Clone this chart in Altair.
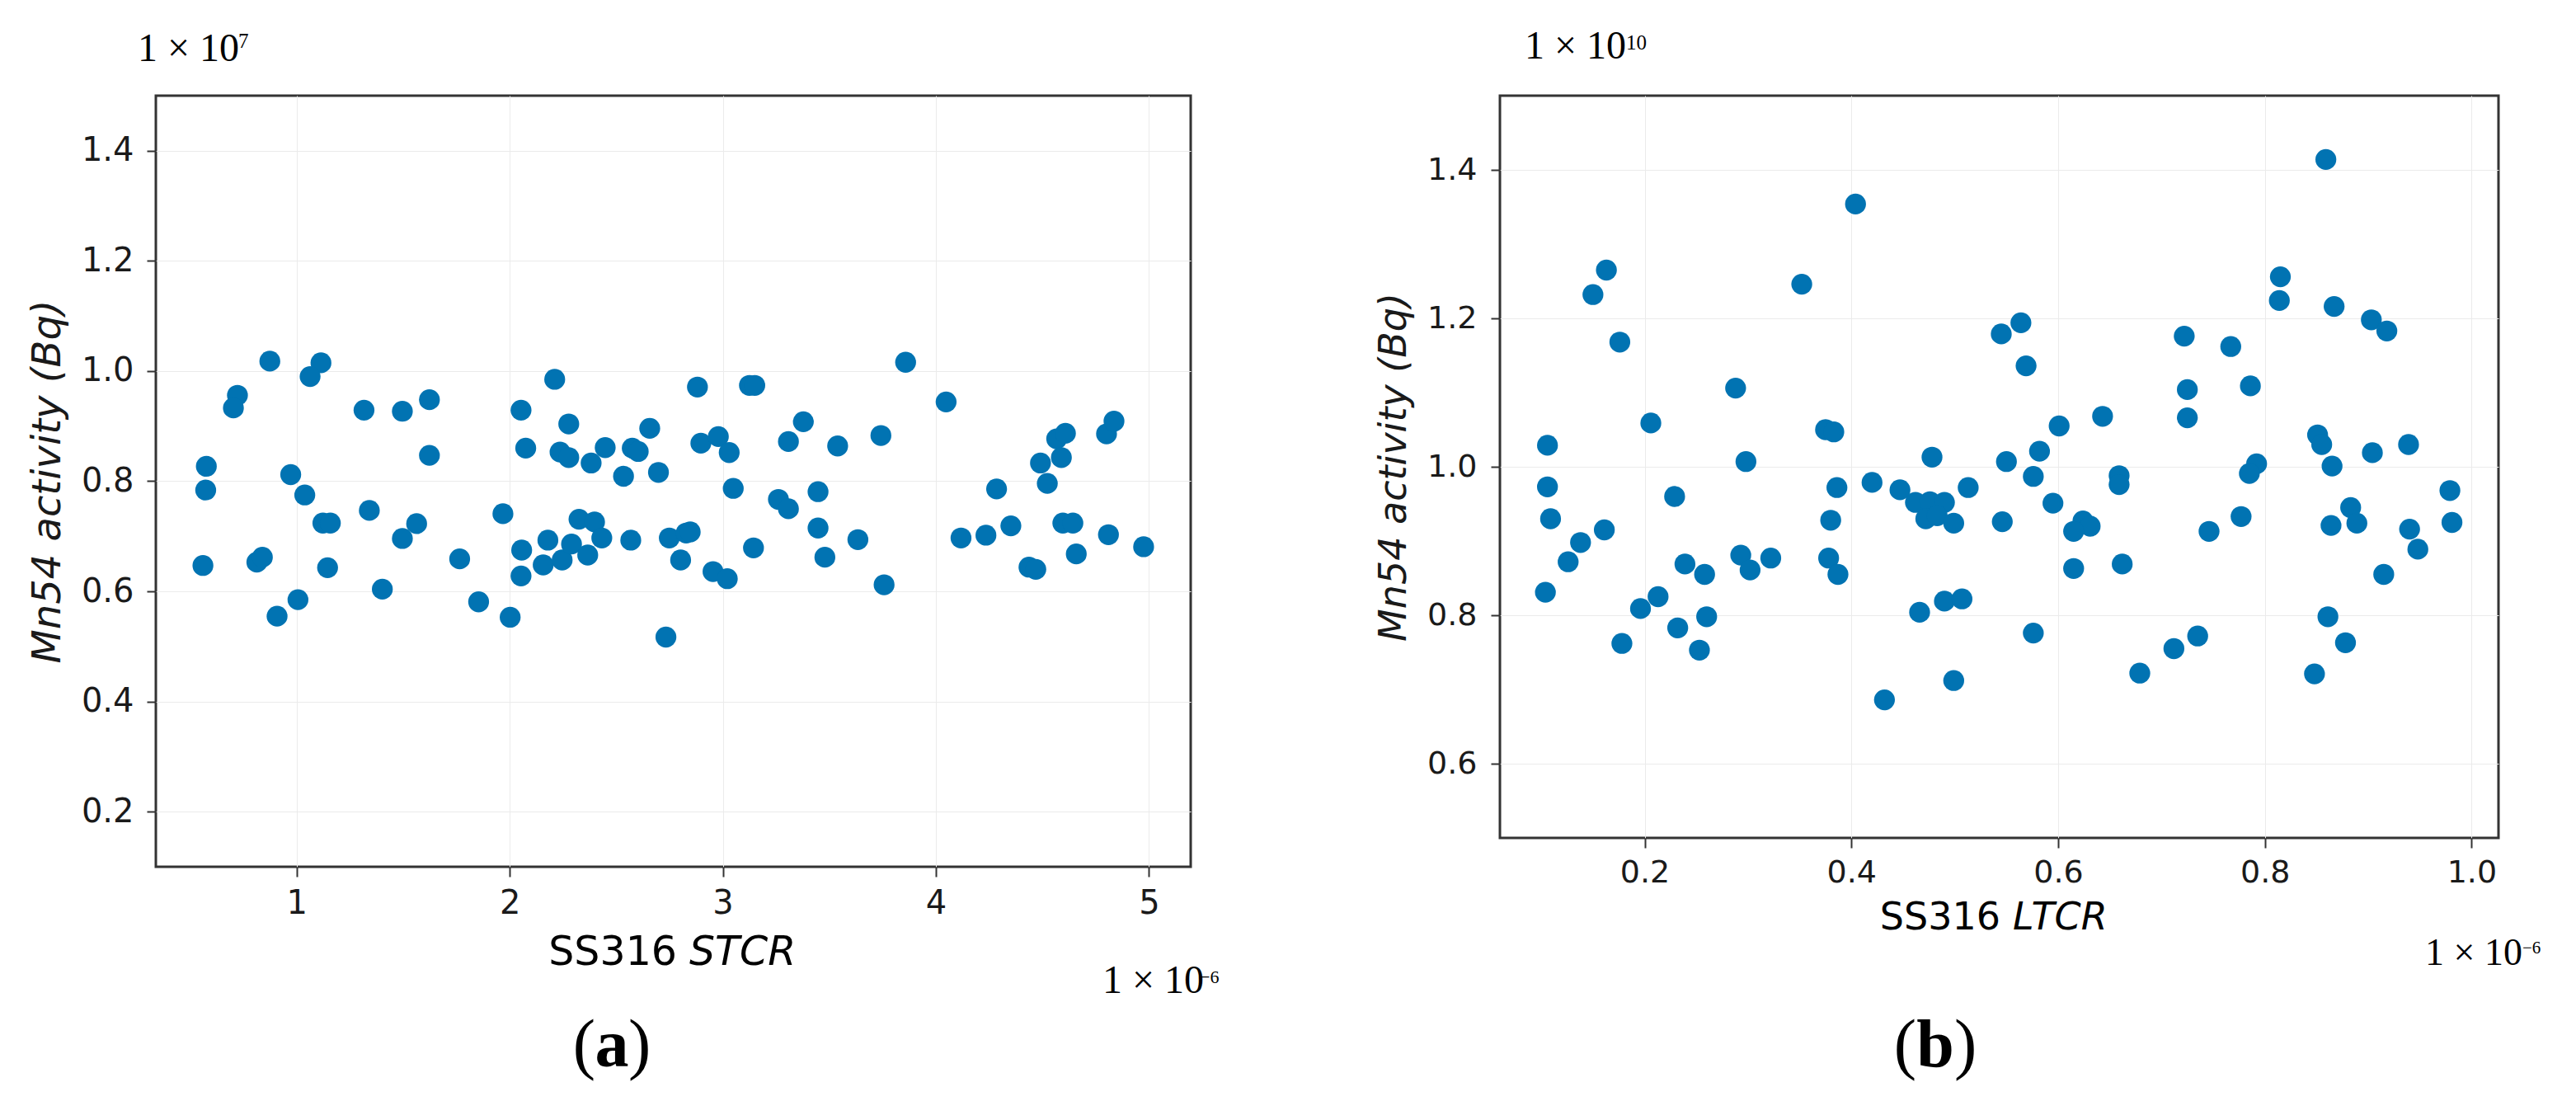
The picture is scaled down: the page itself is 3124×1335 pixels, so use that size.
import altair as alt
import pandas as pd

# ---------------- data (units: x in 1e-6, y in 1e7 for (a) and 1e10 for (b)) ----------------
stcr_x = [0.874, 1.114, 1.063, 0.722, 0.703, 1.316, 1.496, 1.623, 1.623, 0.576,
          0.573, 0.972, 1.038, 1.341, 1.123, 1.158, 1.563, 1.496, 0.560, 0.813,
          0.839, 1.145, 1.402, 1.006, 0.908, 1.765, 1.854, 2.002, 1.968, 2.053,
          2.075, 2.211, 2.277, 2.236, 2.277, 2.382, 2.448, 2.534, 2.575, 2.603,
          2.657, 2.698, 2.056, 2.053, 2.179, 2.157, 2.246, 2.290, 2.325, 2.398,
          2.366, 2.432, 2.568, 2.749, 2.802, 2.828, 2.847, 2.733, 2.881, 2.897,
          2.979, 3.030, 3.049, 3.125, 3.150, 2.954, 3.021, 3.144, 3.308, 3.378,
          3.261, 3.308, 3.447, 3.447, 3.479, 3.539, 3.634, 3.742, 3.757, 3.858,
          4.048, 4.118, 4.235, 4.285, 4.352, 4.437, 4.469, 4.491, 4.523, 4.567,
          4.608, 4.589, 4.596, 4.643, 4.659, 4.801, 4.836, 4.810, 4.975]
stcr_y = [1.018, 1.015, 0.990, 0.956, 0.933, 0.929, 0.927, 0.948, 0.847, 0.827,
          0.784, 0.812, 0.775, 0.747, 0.724, 0.724, 0.723, 0.696, 0.647, 0.653,
          0.662, 0.643, 0.604, 0.585, 0.555, 0.659, 0.581, 0.553, 0.741, 0.929,
          0.860, 0.985, 0.904, 0.853, 0.843, 0.833, 0.861, 0.809, 0.860, 0.854,
          0.896, 0.816, 0.675, 0.628, 0.693, 0.648, 0.657, 0.686, 0.731, 0.726,
          0.666, 0.697, 0.693, 0.697, 0.657, 0.706, 0.708, 0.517, 0.971, 0.869,
          0.881, 0.852, 0.787, 0.974, 0.974, 0.636, 0.623, 0.679, 0.872, 0.908,
          0.767, 0.750, 0.781, 0.715, 0.662, 0.864, 0.694, 0.883, 0.612, 1.016,
          0.944, 0.697, 0.702, 0.786, 0.719, 0.644, 0.640, 0.833, 0.796, 0.877,
          0.887, 0.843, 0.724, 0.724, 0.668, 0.886, 0.909, 0.703, 0.681]

ltcr_x = [0.859, 0.404, 0.163, 0.150, 0.352, 0.176, 0.815, 0.814, 0.867, 0.564,
          0.545, 0.569, 0.722, 0.767, 0.903, 0.918, 0.288, 0.725, 0.786, 0.725,
          0.206, 0.643, 0.601, 0.375, 0.383, 0.106, 0.298, 0.478, 0.550, 0.582,
          0.851, 0.855, 0.865, 0.939, 0.904, 0.792, 0.785, 0.106, 0.386, 0.420,
          0.447, 0.513, 0.576, 0.659, 0.659, 0.979, 0.109, 0.229, 0.462, 0.476,
          0.490, 0.472, 0.483, 0.499, 0.380, 0.595, 0.546, 0.624, 0.631, 0.615,
          0.746, 0.777, 0.883, 0.889, 0.864, 0.981, 0.940, 0.948, 0.915, 0.161,
          0.138, 0.126, 0.104, 0.239, 0.258, 0.293, 0.302, 0.322, 0.378, 0.387,
          0.615, 0.662, 0.196, 0.213, 0.260, 0.232, 0.178, 0.253, 0.466, 0.490,
          0.507, 0.576, 0.432, 0.499, 0.679, 0.712, 0.735, 0.848, 0.861, 0.878]
ltcr_y = [1.414, 1.354, 1.265, 1.232, 1.246, 1.168, 1.256, 1.224, 1.216, 1.194,
          1.179, 1.136, 1.176, 1.162, 1.198, 1.183, 1.106, 1.104, 1.109, 1.066,
          1.059, 1.068, 1.055, 1.050, 1.047, 1.029, 1.007, 1.013, 1.007, 1.021,
          1.043, 1.030, 1.001, 1.030, 1.019, 1.004, 0.991, 0.973, 0.972, 0.979,
          0.969, 0.972, 0.987, 0.988, 0.976, 0.968, 0.930, 0.960, 0.952, 0.953,
          0.952, 0.930, 0.934, 0.924, 0.928, 0.951, 0.926, 0.927, 0.920, 0.913,
          0.913, 0.933, 0.945, 0.924, 0.921, 0.925, 0.916, 0.889, 0.855, 0.915,
          0.898, 0.872, 0.831, 0.869, 0.855, 0.881, 0.861, 0.877, 0.877, 0.855,
          0.863, 0.869, 0.809, 0.825, 0.798, 0.783, 0.762, 0.753, 0.804, 0.819,
          0.822, 0.776, 0.686, 0.712, 0.722, 0.755, 0.772, 0.721, 0.798, 0.763]

x_ticks_a = [1, 2, 3, 4, 5]
y_ticks_a = [0.2, 0.4, 0.6, 0.8, 1.0, 1.2, 1.4]
x_ticks_b = [0.2, 0.4, 0.6, 0.8, 1.0]
y_ticks_b = [0.6, 0.8, 1.0, 1.2, 1.4]

BLUE = "#0173B2"
SANS = "DejaVu Sans"
SERIF = "Liberation Serif"


def note(text, x, y, size, font=SERIF, align="left", weight="normal", style="normal"):
    return alt.Chart(pd.DataFrame({"t": [text]})).mark_text(
        align=align, baseline="alphabetic", fontSize=size, font=font,
        fontWeight=weight, fontStyle=style, color="black"
    ).encode(text="t:N", x=alt.value(x), y=alt.value(y))


def scatter(xs, ys, xdom, ydom, xt, yt, xfmt, lab_size, title_size, tick_pad_x, lab_pad_y, title_pad):
    df = pd.DataFrame({"x": xs, "y": ys})
    return alt.Chart(df).mark_circle(size=640, color=BLUE, opacity=1).encode(
        x=alt.X("x:Q", scale=alt.Scale(domain=xdom, nice=False, zero=False),
                axis=alt.Axis(values=xt, format=xfmt, title=None, labelFontSize=lab_size,
                              labelPadding=tick_pad_x, tickSize=12)),
        y=alt.Y("y:Q", scale=alt.Scale(domain=ydom, nice=False, zero=False),
                axis=alt.Axis(values=yt, format=".1f", title="Mn54 activity (Bq)",
                              titleFontSize=title_size, titleFontStyle="italic",
                              titleFontWeight="normal", titlePadding=title_pad,
                              labelFontSize=lab_size, labelPadding=lab_pad_y, tickSize=11)),
    )


pts_a = scatter(stcr_x, stcr_y, [0.339, 5.196], [0.1, 1.5], x_ticks_a, y_ticks_a, "d",
                40, 48, 12, 16, 16)
pts_b = scatter(ltcr_x, ltcr_y, [0.060, 1.026], [0.5, 1.5], x_ticks_b, y_ticks_b, ".1f",
                38, 46, 11, 17, 16)

notes_a = [
    note("1 × 10", -22, -42, 48),
    note("7", 100, -58, 25),
    note("1 × 10", 1148, 1088, 48),
    note("−6", 1266, 1076, 22),
    note("SS316", 632, 1054, 49, font=SANS, align="right"),
    note("STCR", 647, 1054, 49, font=SANS, style="italic"),
    note("(", 533, 1177, 82, align="right"),
    note("a", 553, 1177, 82, align="center", weight="bold"),
    note(")", 573, 1177, 82, align="left"),
]
notes_b = [
    note("1 × 10", 30, -45, 48),
    note("10", 153, -56, 25),
    note("1 × 10", 1122, 1054, 46),
    note("−6", 1240, 1040, 21),
    note("SS316", 607, 1011, 46, font=SANS, align="right"),
    note("LTCR", 622, 1011, 46, font=SANS, style="italic"),
    note("(", 505, 1177, 82, align="right"),
    note("b", 528, 1177, 82, align="center", weight="bold"),
    note(")", 551, 1177, 82, align="left"),
]

panel_a = alt.layer(pts_a, *notes_a).properties(width=1255, height=935)
panel_b = alt.layer(pts_b, *notes_b).properties(width=1211, height=900)

chart = alt.hconcat(panel_a, panel_b, spacing=375, bounds="flush").properties(
    padding={"left": 24, "top": 23, "right": 0, "bottom": 0}
).configure_view(
    stroke="#333333", strokeWidth=3
).configure_axis(
    grid=True, gridColor="#ebebeb", gridWidth=1, domain=False,
    tickColor="#333333", tickWidth=2,
    labelFont=SANS, titleFont=SANS, labelColor="#1a1a1a", titleColor="#1a1a1a"
)

chart.save("out.html", embed_options={"renderer": "svg", "actions": False})
